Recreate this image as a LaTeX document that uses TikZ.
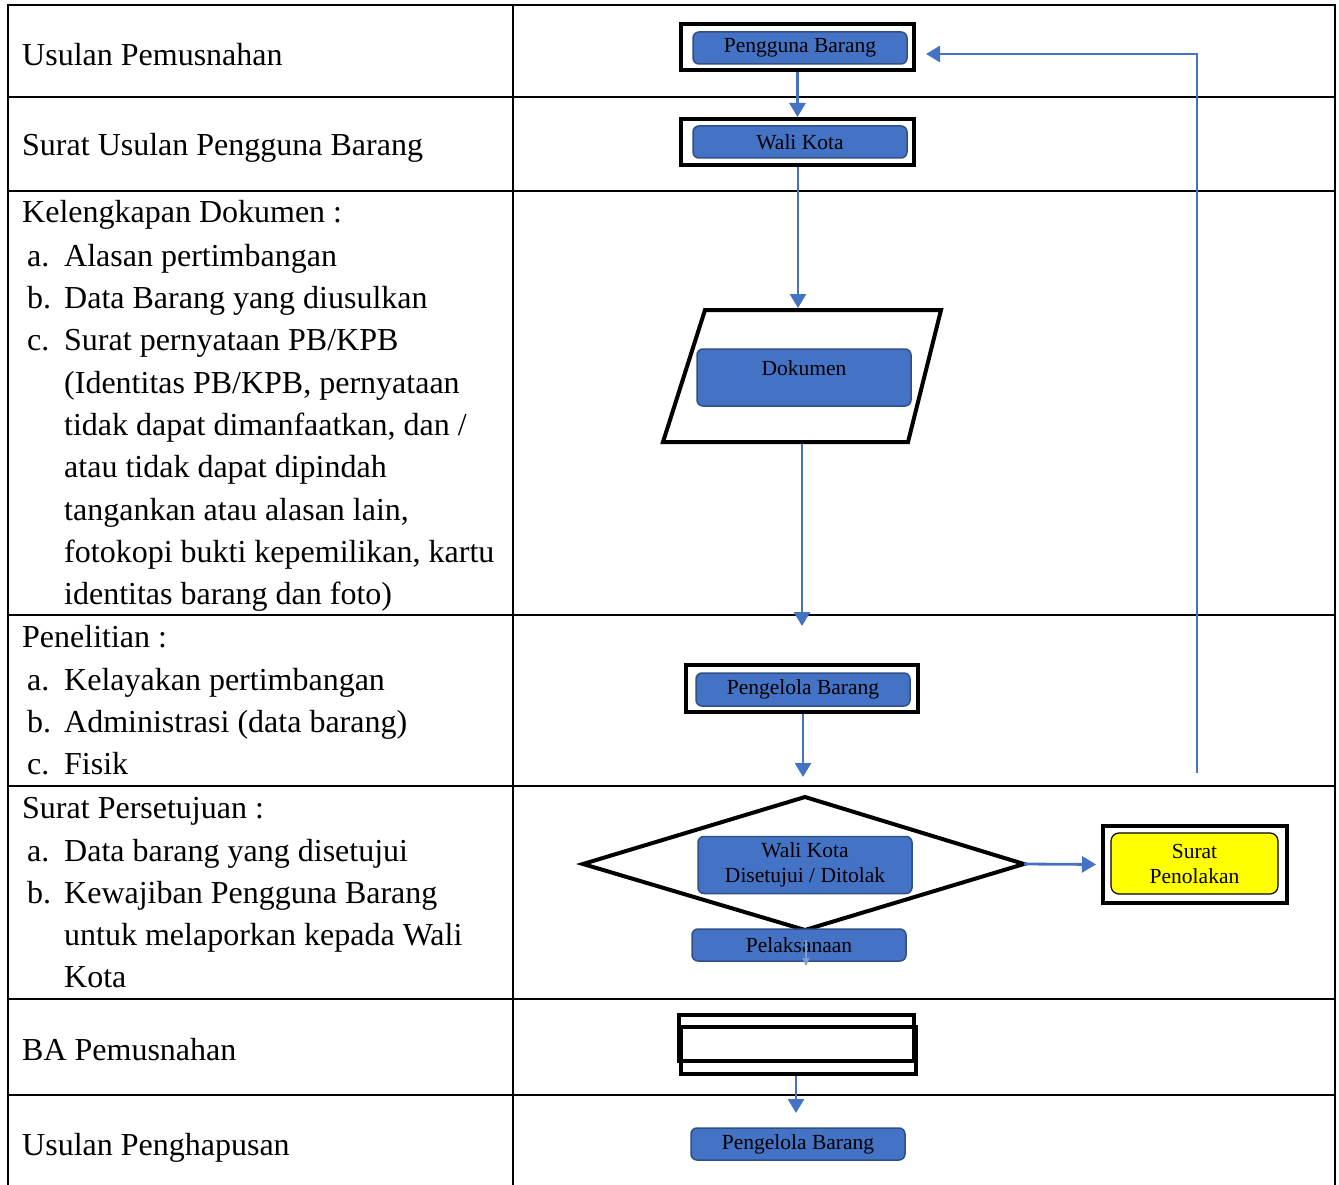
\documentclass[tikz,border=0pt]{standalone}
\usepackage{fontspec}
\setmainfont{Liberation Serif}
\usetikzlibrary{arrows.meta}
\definecolor{bfill}{HTML}{4472C4}
\definecolor{bdark}{HTML}{2F4F86}
\definecolor{yfill}{HTML}{FFFF00}
\tikzset{
  lt/.style={anchor=base west, inner sep=0pt, font=\fontsize{32}{42}\selectfont},
  outerbox/.style={draw, line width=4pt, fill=white, inner sep=0pt},
  bluebox/.style={draw=bdark, fill=bfill, rounded corners=6pt, line width=1.5pt, inner sep=0pt, align=center, font=\fontsize{21.5}{25}\selectfont},
  yelbox/.style={draw=black, fill=yfill, rounded corners=8pt, line width=1.2pt, inner sep=0pt, align=center, font=\fontsize{21.5}{25}\selectfont},
  arr/.style={draw=bfill, line width=2.8pt, -{Triangle[width=16pt,length=14pt]}},
  grid/.style={line width=2pt}
}
\begin{document}
\begin{tikzpicture}[x=1pt,y=-1pt]
\useasboundingbox (0,0) rectangle (1339,1185);
% table
\draw[grid] (8,1185) -- (8,5) -- (1335,5) -- (1335,1185);
\draw[grid] (513,5) -- (513,1185);
\foreach \yy in {97,191,615,786,999,1095} \draw[grid] (8,\yy) -- (1335,\yy);
% left texts
\node[lt] (t1) at (22,66) {Usulan Pemusnahan};
\node[lt] (t2) at (22,156) {Surat Usulan Pengguna Barang};
\node[lt] (t3) at (22,223) {Kelengkapan Dokumen :};
\node[lt] (t3al) at (27,266) {a.}; \node[lt] (t3a) at (64,266) {Alasan pertimbangan};
\node[lt] (t3bl) at (27,308) {b.}; \node[lt] (t3b) at (64,308) {Data Barang yang diusulkan};
\node[lt] (t3cl) at (27,350) {c.}; \node[lt] (t3c) at (64,350) {Surat pernyataan PB/KPB};
\node[lt] (t3c1) at (64,393) {(Identitas PB/KPB, pernyataan};
\node[lt] (t3c2) at (64,435) {tidak dapat dimanfaatkan, dan /};
\node[lt] (t3c3) at (64,477) {atau tidak dapat dipindah};
\node[lt] (t3c4) at (64,520) {tangankan atau alasan lain,};
\node[lt] (t3c5) at (64,562) {fotokopi bukti kepemilikan, kartu};
\node[lt] (t3c6) at (64,604) {identitas barang dan foto)};
\node[lt] (t4) at (22,647) {Penelitian :};
\node[lt] (t4al) at (27,690) {a.}; \node[lt] (t4a) at (64,690) {Kelayakan pertimbangan};
\node[lt] (t4bl) at (27,732) {b.}; \node[lt] (t4b) at (64,732) {Administrasi (data barang)};
\node[lt] (t4cl) at (27,774) {c.}; \node[lt] (t4c) at (64,774) {Fisik};
\node[lt] (t5) at (22,818) {Surat Persetujuan :};
\node[lt] (t5al) at (27,861) {a.}; \node[lt] (t5a) at (64,861) {Data barang yang disetujui};
\node[lt] (t5bl) at (27,903) {b.}; \node[lt] (t5b) at (64,903) {Kewajiban Pengguna Barang};
\node[lt] (t5b1) at (64,945) {untuk melaporkan kepada Wali};
\node[lt] (t5b2) at (64,987) {Kota};
\node[lt] (t6) at (22,1060) {BA Pemusnahan};
\node[lt] (t7) at (22,1155) {Usulan Penghapusan};
% right side flow
\node[outerbox, minimum width=233pt, minimum height=46pt] (pbo) at (797.5,47.5) {};
\node[bluebox, minimum width=214pt, minimum height=32pt] (pb) at (800,48) {\raisebox{-2pt}{Pengguna Barang}};
\node[outerbox, minimum width=233pt, minimum height=46pt] (wko) at (797.5,142) {};
\node[bluebox, minimum width=214pt, minimum height=32pt] (wk) at (800,142) {\raisebox{-2pt}{Wali Kota}};
% parallelogram
\draw[line width=4pt, fill=white] (705,310) -- (941,310) -- (908,442) -- (663,442) -- cycle;
\coordinate (dokT) at (798,308);
\coordinate (dokB) at (802,444);
\node[bluebox, minimum width=214pt, minimum height=57pt] (dok) at (804,377.5) {};
\node[inner sep=0pt, font=\fontsize{21.5}{25}\selectfont] (doktxt) at (804,368) {Dokumen};
\coordinate (c1) at (802,626);
\node[outerbox, minimum width=232pt, minimum height=47pt] (plo) at (802,688.5) {};
\node[bluebox, minimum width=214pt, minimum height=33pt] (pl) at (803,689.5) {\raisebox{-2pt}{Pengelola Barang}};
\coordinate (c2) at (803,777);
% diamond
\draw[line width=4pt, fill=white] (583,864) -- (805,797) -- (1024,864) -- (805,930) -- cycle;
\coordinate (diaR) at (1024,864);
\node[bluebox, minimum width=214pt, minimum height=57pt] (wkd) at (805,865) {Wali Kota\\Disetujui / Ditolak};
\node[outerbox, minimum width=184pt, minimum height=77pt] (spo) at (1195,864.5) {};
\node[yelbox, minimum width=167pt, minimum height=61pt] (sp) at (1194.5,863.5) {Surat\\Penolakan};
\node[bluebox, minimum width=214pt, minimum height=32pt] (pel) at (799,945) {\raisebox{-1.5pt}{Pelaksanaan}};
\coordinate (pelA) at (806,940);
\coordinate (pelB) at (806,966);
% BA rectangles
\draw[line width=4pt] (679,1015) rectangle (914,1061);
\draw[line width=4pt] (681,1027) rectangle (916,1074);
\coordinate (baS) at (796,1076);
\coordinate (c3) at (796,1113);
\node[bluebox, minimum width=214pt, minimum height=32pt] (pg) at (798,1144) {\raisebox{-2pt}{Pengelola Barang}};
% feedback
\coordinate (fbS) at (1197,773);
\coordinate (fbE) at (926,54);
% arrows
\draw[arr] (pbo.south) -- (wko.north);
\draw[arr] (wko.south -| dokT) -- (dokT);
\draw[arr] (dokB) -- (c1);
\draw[arr] (plo.south -| c2) -- (c2);
\draw[arr, shorten >=5pt] (diaR) -- (spo.west);
\draw[arr] (fbS) |- (fbE);
\draw[draw=bfill!70!white, line width=1.2pt, -{Triangle[width=7pt,length=8pt]}] (pelA) -- (pelB);
\draw[arr] (baS) -- (c3);
\end{tikzpicture}
\end{document}
